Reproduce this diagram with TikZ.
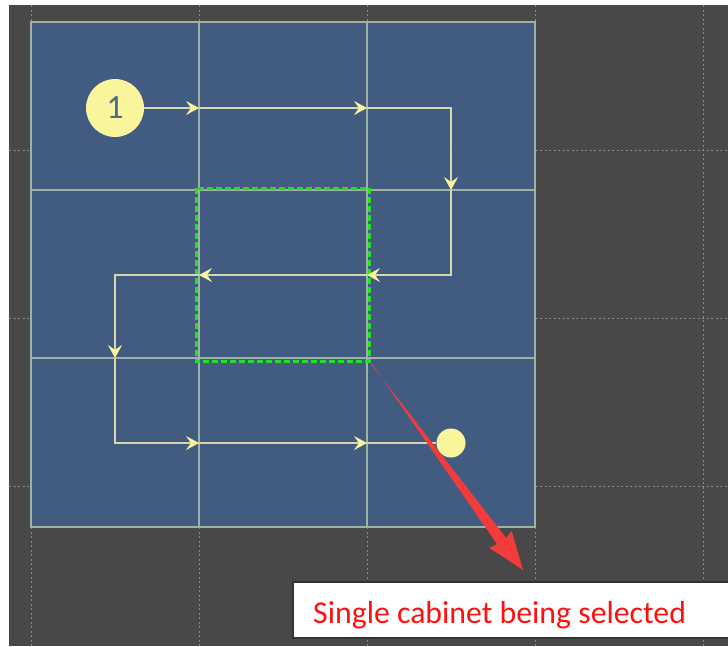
\documentclass[tikz,border=0pt]{standalone}
\usepackage{fontspec}
\setmainfont{Carlito}
\usepackage{xcolor}
\usepackage{tikz}
\usetikzlibrary{arrows.meta,positioning,calc}
\definecolor{bgdark}{HTML}{484848}
\definecolor{panelblue}{HTML}{425E86}
\definecolor{gridline}{HTML}{9FB2A6}
\definecolor{dotgray}{HTML}{8C8C8C}
\definecolor{flowyellow}{HTML}{F8F59C}
\definecolor{flowline}{HTML}{D6D6B0}
\definecolor{selgreen}{HTML}{22E022}
\definecolor{callred}{HTML}{F23C3C}
\definecolor{textred}{HTML}{FF1010}
\definecolor{numblue}{HTML}{4F6C8E}
\tikzset{
  panel/.style  = {fill=panelblue, fill opacity=0.93},
  gline/.style  = {draw=gridline, line width=1.5pt},
  dotl/.style   = {draw=dotgray, line width=1pt, dash pattern=on 2pt off 2.5pt},
  flow/.style   = {draw=flowline, line width=1.1pt},
  farr/.style   = {flow, -{Stealth[length=13pt, width=14pt, inset=5pt, color=flowyellow]}},
  dot/.style    = {circle, fill=flowyellow, inner sep=0pt},
  selbox/.style = {draw=selgreen, line width=3pt, dash pattern=on 6pt off 3pt},
  callout/.style= {fill=white, draw=black!80, line width=1.2pt},
}

\begin{document}
\begin{tikzpicture}[x=1pt, y=-1pt]
\useasboundingbox (0,0) rectangle (728,646);
\fill[white] (0,0) rectangle (728,646);
\fill[bgdark] (9,5) rectangle (728,646);

%% ── Dotted layout grid ───────────────────────────────────────────────────
\foreach \x in {31,199,367,535,703}
  \draw[dotl] (\x,5) -- (\x,646);
\foreach \y in {150,318,486}
  \draw[dotl] (9,\y) -- (728,\y);

%% ── Cabinet panel (3x3) ──────────────────────────────────────────────────
\fill[panel] (31,22) rectangle (535,527);
\foreach \x in {199,367}
  \draw[gline] (\x,22) -- (\x,527);
\foreach \y in {190,358}
  \draw[gline] (31,\y) -- (535,\y);
\draw[gline] (31,22) rectangle (535,527);

%% ── Selected cabinet ─────────────────────────────────────────────────────
\draw[selbox] (196,188) rectangle (369,361);
\coordinate (sel) at (371,364);

%% ── Start / end of the cabling route ─────────────────────────────────────
\node[dot, minimum size=58pt, text=numblue, font=\fontsize{34}{34}\selectfont]
  (start) at (115,108) {1};
\node[dot, minimum size=29pt] (stop) at (451,443) {};

\coordinate (r1a) at (199,108);
\coordinate (r1b) at (367,108);
\coordinate (c1)  at (451,108);
\coordinate (d1)  at (451,190);
\coordinate (c2)  at (451,275);
\coordinate (r2a) at (367,275);
\coordinate (r2b) at (199,275);
\coordinate (c3)  at (115,275);
\coordinate (d2)  at (115,358);
\coordinate (c4)  at (115,443);
\coordinate (r3a) at (199,443);
\coordinate (r3b) at (367,443);

%% ── Route ────────────────────────────────────────────────────────────────
\draw[farr] (start) -- (r1a);
\draw[farr] (r1a) -- (r1b);
\draw[farr] (r1b) -- (c1) -- (d1);
\draw[farr] (d1) -- (c2) -- (r2a);
\draw[farr] (r2a) -- (r2b);
\draw[farr] (r2b) -- (c3) -- (d2);
\draw[farr] (d2) -- (c4) -- (r3a);
\draw[farr] (r3a) -- (r3b);
\draw[flow] (r3b) -- (stop);

%% ── Callout ──────────────────────────────────────────────────────────────
\fill[callout] (293,582) rectangle (731,638);
\node[anchor=base west, inner sep=0pt, text=textred,
      font=\fontsize{31.8}{36}\selectfont] (label) at (313,623)
  {Single cabinet being selected};

\coordinate (tip) at (523,570);
\fill[callred] (sel) -- ($(sel)!1pt!90:(tip)$)
  -- ($(tip)!36pt!(sel)!5.5pt!-90:(tip)$)
  -- ($(tip)!38pt!(sel)!14pt!-90:(tip)$)
  -- (tip)
  -- ($(tip)!38pt!(sel)!14pt!90:(tip)$)
  -- ($(tip)!36pt!(sel)!5.5pt!90:(tip)$) -- cycle;

\end{tikzpicture}
\end{document}
